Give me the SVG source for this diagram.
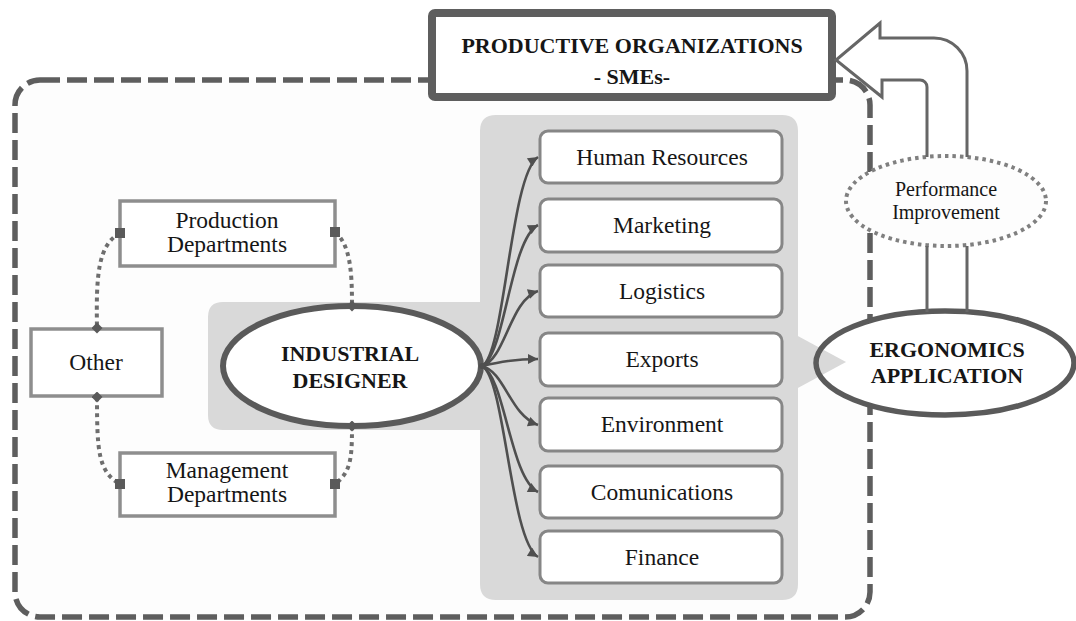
<svg xmlns="http://www.w3.org/2000/svg" width="1076" height="621" viewBox="0 0 1076 621">
<defs>
<style>
.t{font-family:"Liberation Serif","Times New Roman",serif;fill:#161616;text-anchor:middle}
.b{font-weight:bold;font-size:22px}
.r{font-size:23.5px}
.panel{fill:#d9d9d9}
.dept{fill:#fff;stroke:#868686;stroke-width:3}
.lbox{fill:#fff;stroke:#8e8e8e;stroke-width:3.5}
.fan{fill:none;stroke:#4f4f4f;stroke-width:2.6;marker-end:url(#ah)}
.dot{fill:none;stroke:#6e6e6e;stroke-width:4;stroke-dasharray:4 4}
.blk{fill:none;stroke:#666;stroke-width:3}
</style>
<marker id="ah" viewBox="0 0 10 10" refX="10" refY="5" markerWidth="11" markerHeight="10" markerUnits="userSpaceOnUse" orient="auto">
<path d="M0,0 L10,5 L0,10 Z" fill="#4f4f4f"/>
</marker>
<marker id="sq" viewBox="0 0 10 10" refX="5" refY="5" markerWidth="10" markerHeight="10" markerUnits="userSpaceOnUse">
<rect x="0" y="0" width="10" height="10" fill="#5a5a5a"/>
</marker>
<marker id="dm" viewBox="0 0 10 10" refX="5" refY="5" markerWidth="11" markerHeight="11" markerUnits="userSpaceOnUse">
<path d="M5,0 L10,5 L5,10 L0,5 Z" fill="#5a5a5a"/>
</marker>
</defs>
<rect width="1076" height="621" fill="#fff"/>
<g id="boundary">
<rect x="15" y="80" width="855" height="537" rx="25" fill="#fdfdfd" stroke="#5e5e5e" stroke-width="5.5" stroke-dasharray="20 7"/>
</g>
<g id="panel">
<path class="panel" d="M496,115 H782 Q798,115 798,131 V584 Q798,600 782,600 H496 Q480,600 480,584 V430 H223 Q208,430 208,415 V317 Q208,302 223,302 H480 V131 Q480,115 496,115 Z"/>
</g>
<g id="productive-organizations">
<rect x="432" y="13" width="400" height="84" rx="3" fill="#fff" stroke="#5e5e5e" stroke-width="8"/>
<text class="t b" x="632" y="53" font-size="23px">PRODUCTIVE ORGANIZATIONS</text>
<text class="t b" x="632" y="84" font-size="23px">- SMEs-</text>
</g>
<g id="production-departments">
<rect class="lbox" x="120" y="201" width="215" height="65"/>
<text class="t r" x="227" y="228">Production</text>
<text class="t r" x="227" y="252">Departments</text>
</g>
<g id="other">
<rect class="lbox" x="31" y="329" width="131" height="67"/>
<text class="t r" x="96" y="370">Other</text>
</g>
<g id="management-departments">
<rect class="lbox" x="120" y="453" width="215" height="63"/>
<text class="t r" x="227" y="478">Management</text>
<text class="t r" x="227" y="502">Departments</text>
</g>
<g id="industrial-designer">
<ellipse cx="352" cy="366" rx="129" ry="60" fill="#fff" stroke="#5a5a5a" stroke-width="6"/>
<text class="t b" x="350" y="361">INDUSTRIAL</text>
<text class="t b" x="350" y="388">DESIGNER</text>
</g>
<g id="human-resources">
<rect class="dept" x="540" y="131" width="242" height="52" rx="8"/>
<text class="t r" x="662" y="165">Human Resources</text>
</g>
<g id="marketing">
<rect class="dept" x="540" y="199" width="242" height="53" rx="8"/>
<text class="t r" x="662" y="233">Marketing</text>
</g>
<g id="logistics">
<rect class="dept" x="540" y="265" width="242" height="52" rx="8"/>
<text class="t r" x="662" y="299">Logistics</text>
</g>
<g id="exports">
<rect class="dept" x="540" y="333" width="242" height="53" rx="8"/>
<text class="t r" x="662" y="367">Exports</text>
</g>
<g id="environment">
<rect class="dept" x="540" y="398" width="242" height="53" rx="8"/>
<text class="t r" x="662" y="432">Environment</text>
</g>
<g id="comunications">
<rect class="dept" x="540" y="466" width="242" height="52" rx="8"/>
<text class="t r" x="662" y="500">Comunications</text>
</g>
<g id="finance">
<rect class="dept" x="540" y="531" width="242" height="52" rx="8"/>
<text class="t r" x="662" y="565">Finance</text>
</g>
<g id="performance-improvement">
<ellipse cx="946" cy="201" rx="100" ry="45" fill="#fdfdfd" stroke="#808080" stroke-width="4" stroke-dasharray="3.5 4"/>
<text class="t" x="946" y="196" font-size="20px">Performance</text>
<text class="t" x="946" y="219" font-size="20px">Improvement</text>
</g>
<g id="ergonomics-application">
<ellipse cx="945" cy="363" rx="129" ry="52" fill="#fff"/>
<polygon class="panel" points="796,335 846,362 796,389"/>
<ellipse cx="945" cy="363" rx="129" ry="52" fill="none" stroke="#5a5a5a" stroke-width="5.5"/>
<text class="t b" x="947" y="357">ERGONOMICS</text>
<text class="t b" x="947" y="383">APPLICATION</text>
</g>
<g id="connectors">
<path class="dot" d="M120,233 C98,245 96,275 97,328" marker-start="url(#sq)" marker-end="url(#dm)"/>
<path class="dot" d="M335,232 C351,245 352,275 352,306" marker-start="url(#sq)" marker-end="url(#dm)"/>
<path class="dot" d="M97,397 C97,450 98,472 120,484" marker-start="url(#dm)" marker-end="url(#sq)"/>
<path class="dot" d="M352,426 C352,458 351,472 335,484" marker-start="url(#dm)" marker-end="url(#sq)"/>
<path class="fan" d="M482,366 C505,355 510,175 538,157"/>
<path class="fan" d="M482,366 C505,355 510,240 538,225"/>
<path class="fan" d="M482,366 C505,360 510,300 538,291"/>
<path class="fan" d="M482,366 C500,362 515,359 538,359"/>
<path class="fan" d="M482,366 C505,372 510,415 538,425"/>
<path class="fan" d="M482,366 C505,377 510,478 538,492"/>
<path class="fan" d="M482,366 C505,377 510,540 538,557"/>
<circle cx="482" cy="366" r="3" fill="#4f4f4f"/>
<path class="blk" d="M967,157 V71 A33,33 0 0 0 934,38 H880 V23 L836,60 L882,97 V80 H920 A7,7 0 0 1 927,87 V157"/>
<path class="blk" d="M927,246 V312 M967,246 V312"/>
</g>
</svg>
